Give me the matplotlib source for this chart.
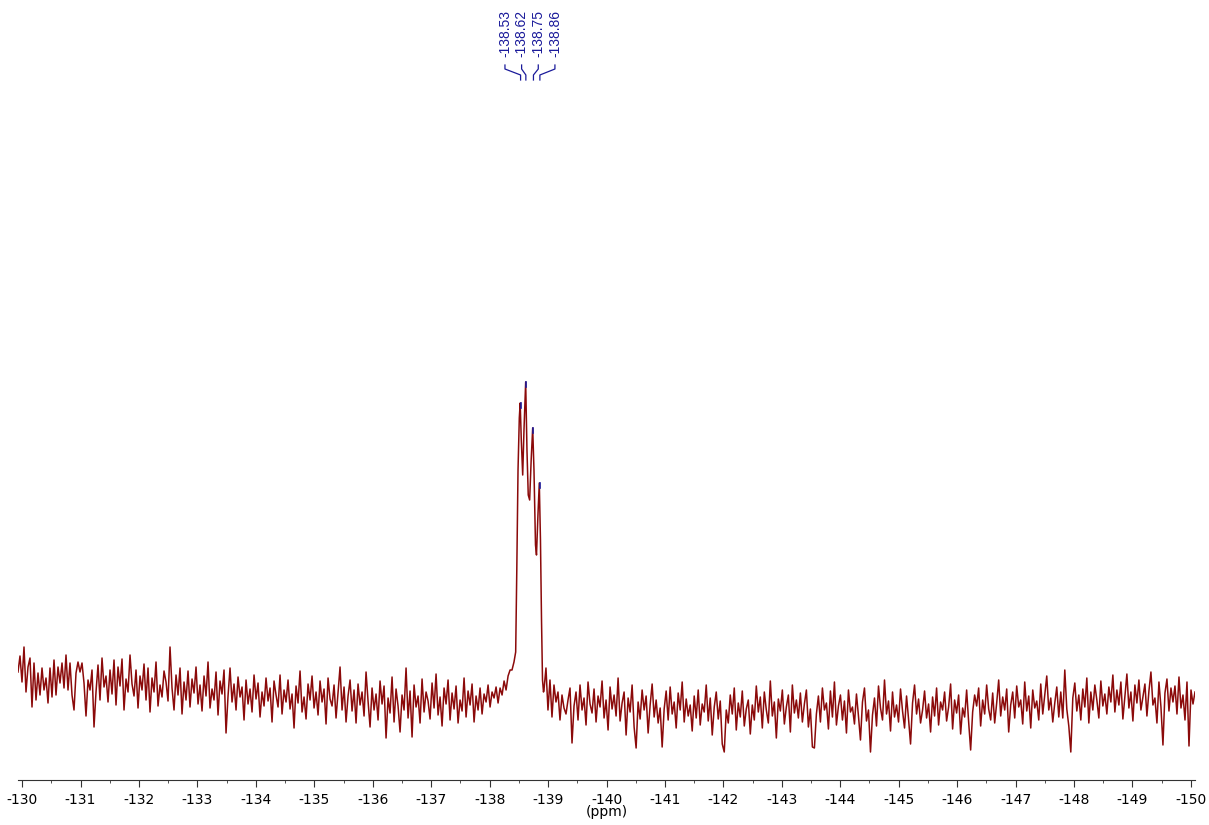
import numpy as np
import matplotlib.pyplot as plt

# 19F spektrum, intensywnosc w jednostkach umownych
left_start, left_end = -129.93, -138.35
left_noise = [108, 124, 98, 133, 88, 113, 122, 73, 117, 80, 107, 85, 112, 90, 102,
              77, 112, 83, 120, 85, 113, 97, 117, 92, 125, 90, 117, 85, 70, 107,
              118, 108, 117, 97, 64, 100, 90, 110, 53, 88, 115, 80, 122, 93, 104,
              78, 110, 86, 120, 75, 113, 94, 121, 70, 101, 88, 125, 96, 84, 110,
              72, 104, 90, 116, 80, 112, 68, 102, 88, 118, 74, 95, 83, 109, 98,
              79, 133, 92, 70, 105, 85, 112, 66, 98, 80, 109, 73, 101, 87, 113,
              76, 95, 69, 104, 84, 118, 72, 91, 80, 108, 65, 99, 86, 110, 47,
              84, 112, 78, 96, 70, 103, 83, 93, 60, 100, 76, 91, 68, 105, 81,
              97, 63, 88, 74, 102, 79, 92, 58, 99, 85, 73, 105, 66, 90, 78,
              100, 71, 86, 52, 94, 77, 109, 68, 83, 61, 96, 80, 104, 72, 88,
              65, 99, 78, 91, 56, 102, 81, 74, 95, 62, 87, 113, 70, 93, 58,
              84, 100, 69, 90, 57, 96, 75, 88, 64, 108, 79, 53, 92, 70, 86,
              60, 99, 76, 94, 42, 82, 67, 103, 58, 91, 74, 48, 85, 70, 112,
              62, 89, 43, 95, 73, 84, 57, 101, 68, 88, 79, 61, 97, 72, 106,
              65, 83, 54, 92, 76, 100, 60, 87, 71, 94, 57, 80, 69, 102, 63,
              89, 75, 96, 58, 84, 70, 92, 66, 86, 78, 95, 73, 88, 82, 93,
              77, 92, 85, 99, 90, 104, 110]

peak_ppm = [-138.383, -138.417, -138.446, -138.465, -138.486, -138.508, -138.523,
            -138.542, -138.566, -138.588, -138.617, -138.639, -138.661, -138.685,
            -138.711, -138.737, -138.759, -138.785, -138.802, -138.827, -138.850,
            -138.870, -138.888, -138.905, -138.922]
peak_int = [110, 118, 128, 210, 310, 362, 377, 340, 305, 350, 398, 330, 285, 280,
            320, 352, 310, 235, 225, 265, 297, 240, 160, 100, 88]

right_start, right_end = -138.93, -150.07
right_noise = [90, 112, 70, 100, 63, 95, 78, 88, 60, 85, 72, 66, 80, 92, 37,
               74, 88, 60, 95, 70, 82, 55, 98, 76, 67, 91, 58, 84, 73, 99,
               62, 80, 50, 93, 71, 85, 64, 102, 59, 77, 88, 45, 82, 68, 95,
               53, 32, 78, 61, 90, 70, 84, 47, 75, 96, 63, 80, 57, 72, 33,
               71, 89, 60, 93, 66, 78, 52, 87, 70, 98, 58, 81, 64, 75, 49,
               84, 62, 90, 55, 76, 68, 95, 59, 82, 45, 73, 88, 61, 79, 36,
               28, 70, 57, 85, 66, 92, 50, 77, 63, 89, 54, 71, 80, 46, 75,
               60, 94, 68, 83, 52, 88, 70, 57, 99, 64, 78, 42, 81, 69, 90,
               56, 73, 85, 48, 95, 67, 80, 62, 87, 58, 76, 90, 53, 71, 33,
               32, 66, 84, 58, 92, 70, 77, 51, 89, 63, 98, 55, 74, 85, 60,
               79, 47, 90, 68, 73, 56, 86, 64, 40, 78, 92, 59, 70, 28, 65,
               82, 54, 94, 72, 60, 100, 66, 79, 49, 88, 63, 75, 58, 91, 69,
               52, 84, 61, 36, 77, 95, 66, 81, 57, 70, 89, 62, 76, 48, 83,
               64, 92, 55, 78, 70, 88, 59, 73, 96, 51, 80, 67, 85, 46, 72,
               63, 90, 58, 30, 68, 85, 74, 92, 54, 80, 66, 95, 71, 60, 87,
               57, 77, 100, 64, 83, 70, 91, 48, 75, 88, 62, 94, 73, 80, 56,
               98, 69, 84, 52, 90, 72, 79, 60, 96, 66, 85, 104, 70, 82, 58,
               77, 93, 63, 88, 62, 110, 71, 54, 28, 82, 97, 69, 85, 60, 91,
               73, 102, 57, 88, 70, 95, 80, 62, 99, 74, 86, 66, 93, 78, 105,
               68, 90, 75, 98, 61, 84, 106, 72, 88, 59, 95, 77, 100, 70, 83,
               96, 64, 89, 108, 75, 82, 57, 98, 73, 35, 87, 101, 69, 92, 78,
               94, 66, 103, 72, 85, 60, 98, 34, 90, 76, 88]

peak_labels = [-138.53, -138.62, -138.75, -138.86]
peak_tops = [377, 398, 352, 297]

line_col = '#8b0a0a'
lab_col = '#1a1a9a'

x_left = np.linspace(left_start, left_end, len(left_noise))
x_right = np.linspace(right_start, right_end, len(right_noise))
ppm = np.concatenate([x_left, peak_ppm, x_right])
intensity = np.concatenate([left_noise, peak_int, right_noise])

fig = plt.figure(figsize=(12.09, 8.25), dpi=100)
ax = fig.add_axes([18 / 1209, 45 / 825, (1195 - 18) / 1209, 780 / 825])
ax.plot(ppm, intensity, color=line_col, lw=1.1)

# znaczniki na szczytach
for p, top in zip(peak_labels, peak_tops):
    ax.plot([p, p], [top - 5, top], color=lab_col, lw=1.2)

ax.set_xlim(-129.93, -150.07)
ax.set_ylim(0, 780)

# etykiety pikow
spacing = 0.285
centre = np.mean(peak_labels)
for k, p in enumerate(peak_labels):
    lx = centre + (1.5 - k) * spacing
    ax.text(lx, 723, '%.2f' % p, rotation=90, ha='center', va='bottom',
            color=lab_col, fontsize=10, family='Liberation Sans')
    ax.plot([lx, lx, p, p], [715, 711, 705, 700], color=lab_col, lw=0.9)

for s in ['left', 'right', 'top']:
    ax.spines[s].set_visible(False)
ax.spines['bottom'].set_color('#333333')
ax.set_yticks([])
ax.set_xticks(np.arange(-130, -151, -1))
ax.set_xticks(np.arange(-130.5, -150, -0.5), minor=True)
ax.set_xticklabels(['%d' % v for v in np.arange(-130, -151, -1)])
ax.tick_params(axis='x', which='major', length=5, color='#333333', labelsize=10, pad=4)
ax.tick_params(axis='x', which='minor', length=2.5, color='#333333')
ax.set_xlabel('(ppm)', fontsize=10, labelpad=-1)

fig.savefig('out.png', dpi=100)
